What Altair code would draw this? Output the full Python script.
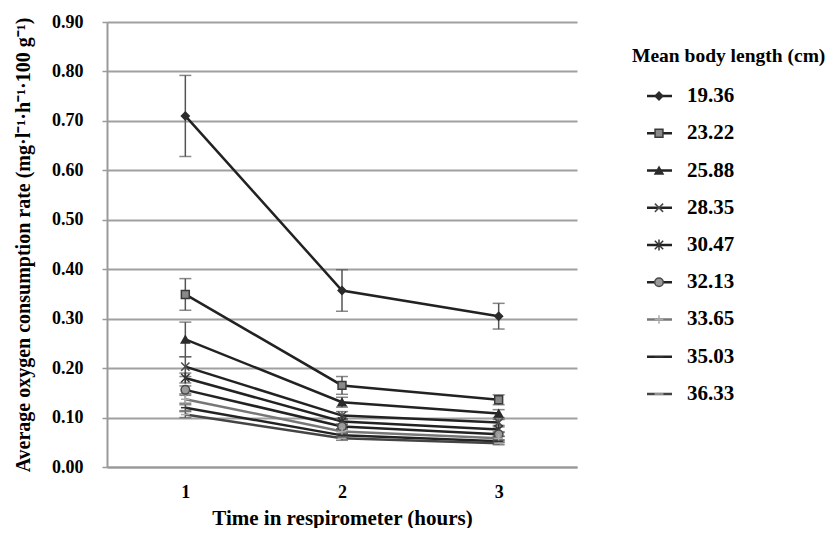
import altair as alt
import pandas as pd

hours = [1, 2, 3]
lengths = ["19.36", "23.22", "25.88", "28.35", "30.47", "32.13", "33.65", "35.03", "36.33"]
rate_h1 = [0.710, 0.349, 0.258, 0.203, 0.180, 0.156, 0.137, 0.120, 0.106]
rate_h2 = [0.357, 0.165, 0.131, 0.104, 0.092, 0.082, 0.072, 0.064, 0.058]
rate_h3 = [0.305, 0.136, 0.108, 0.090, 0.076, 0.066, 0.058, 0.052, 0.048]
err_h1 = [0.082, 0.032, 0.035, 0.020, 0.010, 0.008, 0.008, 0.006, 0.006]
err_h2 = [0.042, 0.018, 0.010, 0.008, 0.006, 0.005, 0.005, 0.004, 0.004]
err_h3 = [0.026, 0.010, 0.008, 0.006, 0.005, 0.004, 0.004, 0.003, 0.003]
y_ticks = [0.0, 0.1, 0.2, 0.3, 0.4, 0.5, 0.6, 0.7, 0.8, 0.9]

legend_title = "Mean body length (cm)"
x_title = "Time in respirometer (hours)"
y_title = "Average oxygen consumption rate (mg·l⁻¹·h⁻¹·100 g⁻¹)"

shapes = ["diamond", "square", "triangle-up",
          "M-1,-1L1,1M-1,1L1,-1",
          "M-1,-1L1,1M-1,1L1,-1M0,-1.3L0,1.3",
          "circle",
          "M-1,0L1,0M0,-1L0,1",
          "M-1,0L1,0",
          "M-1,0L1,0"]
fills = ["#2b2b2b", "#8a8a8a", "#2b2b2b", "transparent", "transparent",
         "#9a9a9a", "transparent", "transparent", "transparent"]
strokes = ["#2b2b2b", "#3a3a3a", "#2b2b2b", "#4a4a4a", "#333333",
           "#4a4a4a", "#aaaaaa", "#333333", "#aaaaaa"]
sizes = [60, 80, 70, 210, 100, 80, 110, 50, 50]
line_colors = ["#222222"] * 6 + ["#777777", "#222222", "#444444"]

rows = []
for i, L in enumerate(lengths):
    for h, r, e in zip(hours, [rate_h1[i], rate_h2[i], rate_h3[i]],
                       [err_h1[i], err_h2[i], err_h3[i]]):
        rows.append({"length": L, "hour": h, "rate": r, "lo": r - e, "hi": r + e})
df = pd.DataFrame(rows)

FONT = "Liberation Serif"

xenc = alt.X("hour:Q", scale=alt.Scale(domain=[0.5, 3.5], nice=False),
             axis=alt.Axis(values=hours, format="d", title=x_title, grid=False,
                           ticks=False, tickSize=0, labelPadding=16, titlePadding=6,
                           titleFontSize=21,
                           domainColor="#9a9a9a", domainWidth=2))
yenc = alt.Y("rate:Q", scale=alt.Scale(domain=[0, 0.9], nice=False),
             axis=alt.Axis(values=y_ticks, format=".2f", title=y_title,
                           gridColor="#a0a0a0", gridWidth=2, tickSize=5,
                           tickColor="#9a9a9a", tickWidth=1.5, labelPadding=19,
                           titlePadding=18, titleFontSize=20,
                           domainColor="#9a9a9a", domainWidth=2))

color_sc = alt.Scale(domain=lengths, range=line_colors)
shape_sc = alt.Scale(domain=lengths, range=shapes)
fill_sc = alt.Scale(domain=lengths, range=fills)
stroke_sc = alt.Scale(domain=lengths, range=strokes)
size_sc = alt.Scale(domain=lengths, range=sizes)

base = alt.Chart(df)
lines = base.mark_line(strokeWidth=2.5).encode(
    x=xenc, y=yenc,
    color=alt.Color("length:N", scale=color_sc, legend=None))
err_rule = base.mark_rule(color="#555555", strokeWidth=1.5).encode(
    x="hour:Q", y="lo:Q", y2="hi:Q")
cap_lo = base.mark_tick(color="#555555", orient="horizontal", size=12, thickness=1.5).encode(
    x="hour:Q", y="lo:Q")
cap_hi = base.mark_tick(color="#555555", orient="horizontal", size=12, thickness=1.5).encode(
    x="hour:Q", y="hi:Q")
pts = base.mark_point(filled=True, opacity=1, strokeWidth=1.5).encode(
    x="hour:Q", y="rate:Q",
    shape=alt.Shape("length:N", scale=shape_sc, legend=None),
    fill=alt.Fill("length:N", scale=fill_sc, legend=None),
    stroke=alt.Stroke("length:N", scale=stroke_sc, legend=None),
    size=alt.Size("length:N", scale=size_sc, legend=None))

main = alt.layer(lines, err_rule, cap_lo, cap_hi, pts).properties(width=470, height=445)

leg_df = pd.DataFrame({"length": lengths, "idx": list(range(len(lengths)))})
leg_y = alt.Y("idx:Q", scale=alt.Scale(domain=[-1.987, 9.96], nice=False, zero=False, reverse=True),
              axis=None)
lbase = alt.Chart(leg_df)
l_rule = lbase.mark_rule(strokeWidth=2.5).encode(
    x=alt.value(70), x2=alt.value(95), y=leg_y,
    color=alt.Color("length:N", scale=color_sc, legend=None))
l_pts = lbase.mark_point(filled=True, opacity=1, strokeWidth=1.5).encode(
    x=alt.value(82), y=leg_y,
    shape=alt.Shape("length:N", scale=shape_sc, legend=None),
    fill=alt.Fill("length:N", scale=fill_sc, legend=None),
    stroke=alt.Stroke("length:N", scale=stroke_sc, legend=None),
    size=alt.Size("length:N", scale=size_sc, legend=None))
l_txt = lbase.mark_text(align="left", baseline="middle", font=FONT, fontWeight="bold",
                        fontSize=21, color="black").encode(
    x=alt.value(110), y=leg_y, text="length:N")
l_title = alt.Chart(pd.DataFrame({"t": [legend_title]})).mark_text(
    align="left", baseline="middle", font=FONT, fontWeight="bold", fontSize=19.5,
    color="black").encode(x=alt.value(55), y=alt.value(34), text="t:N")
legend = alt.layer(l_rule, l_pts, l_txt, l_title).properties(width=247, height=445)

chart = alt.hconcat(main, legend, spacing=0).resolve_scale(
    x="independent", y="independent"
).properties(
    padding={"left": 5, "top": 5, "right": 0, "bottom": 0}
).configure_view(stroke=None).configure_axis(
    labelFont=FONT, labelFontWeight="bold", labelFontSize=18, labelColor="black",
    titleFont=FONT, titleFontWeight="bold", titleFontSize=20, titleColor="black"
)

chart.save("out.html", embed_options={"renderer": "svg", "actions": False})
